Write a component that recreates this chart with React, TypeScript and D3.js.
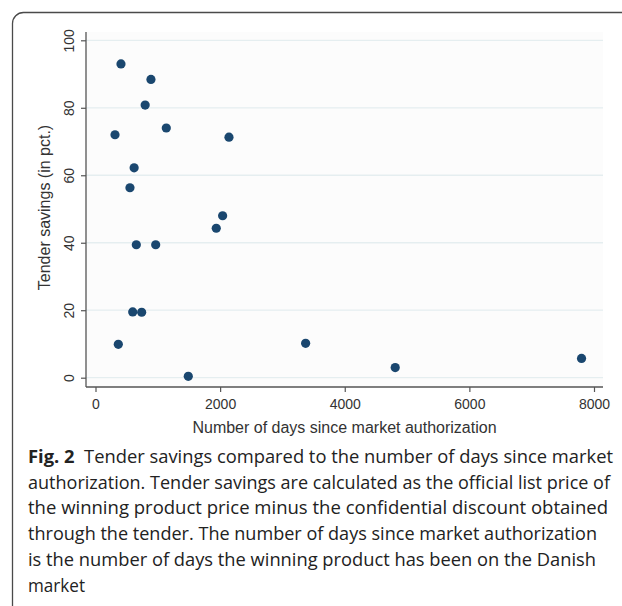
import { useEffect, useRef } from 'react'
import * as d3 from 'd3'

// days since market authorization vs tender savings (%)
const days = [409, 890, 797, 313, 1136, 2142, 620, 553, 1938, 2040, 655, 966, 597, 741, 366, 1489, 3372, 4810, 7800]
const savings = [93.0, 88.4, 80.8, 72.0, 74.0, 71.3, 62.2, 56.3, 44.3, 48.0, 39.4, 39.4, 19.5, 19.4, 9.9, 0.4, 10.2, 3.0, 5.7]

const xTicks = [0, 2000, 4000, 6000, 8000]
const yTicks = [0, 20, 40, 60, 80, 100]

const xTitle = 'Number of days since market authorization'
const yTitle = 'Tender savings (in pct.)'

const captionBold = 'Fig. 2'
const captionLines = [
  'Tender savings compared to the number of days since market',
  'authorization. Tender savings are calculated as the official list price of',
  'the winning product price minus the confidential discount obtained',
  'through the tender. The number of days since market authorization',
  'is the number of days the winning product has been on the Danish',
  'market',
]
const captionWidths = [585, 582, 580, 569, 568, 57]

export default function App() {
  const svgRef = useRef<SVGSVGElement>(null)

  useEffect(() => {
    if (!svgRef.current) return
    const width = 622
    const height = 606
    const frame = { left: 86, right: 603, top: 32, bottom: 387 }

    const x = d3.scaleLinear().domain([0, 8000]).range([95.5, 594])
    const y = d3.scaleLinear().domain([0, 100]).range([377.7, 40.3])

    const svg = d3.select(svgRef.current)
    svg.selectAll('*').remove()
    svg.attr('width', width).attr('height', height)

    // outer box of the figure
    svg.append('path')
      .attr('d', `M12.5,${height} L12.5,23.5 A11,11 0 0 1 23.5,12.5 L${width},12.5`)
      .attr('fill', 'none')
      .attr('stroke', '#4a4a4a')
      .attr('stroke-width', 1.3)

    svg.append('rect')
      .attr('x', frame.left)
      .attr('y', frame.top)
      .attr('width', frame.right - frame.left)
      .attr('height', frame.bottom - frame.top)
      .attr('fill', '#fcfcfc')

    // gridlines
    svg.append('g')
      .selectAll('line')
      .data(yTicks)
      .join('line')
      .attr('x1', frame.left)
      .attr('x2', frame.right)
      .attr('y1', d => y(d))
      .attr('y2', d => y(d))
      .attr('stroke', '#e5eef0')
      .attr('stroke-width', 1.3)

    const font = 'Arial, "Liberation Sans", sans-serif'

    const gy = svg.append('g')
      .attr('transform', `translate(${frame.left},0)`)
      .call(d3.axisLeft(y).tickValues(yTicks).tickSize(5).tickFormat(d => String(d)))
    gy.select('.domain').remove()
    gy.selectAll('line').attr('stroke', '#555').attr('stroke-width', 1.2)
    gy.selectAll('text')
      .attr('transform', 'rotate(-90)')
      .attr('x', 0)
      .attr('y', -12)
      .attr('dy', 0)
      .attr('text-anchor', 'middle')
      .attr('font-family', font)
      .attr('font-size', 14)
      .attr('fill', '#333')

    const gx = svg.append('g')
      .attr('transform', `translate(0,${frame.bottom})`)
      .call(d3.axisBottom(x).tickValues(xTicks).tickSize(5).tickFormat(d => String(d)))
    gx.select('.domain').remove()
    gx.selectAll('line').attr('stroke', '#555').attr('stroke-width', 1.2)
    gx.selectAll('text')
      .attr('y', 12)
      .attr('font-family', font)
      .attr('font-size', 14)
      .attr('fill', '#333')

    // axis lines (offset from the data range, Stata style)
    svg.append('line')
      .attr('x1', frame.left).attr('x2', frame.left)
      .attr('y1', frame.top).attr('y2', frame.bottom)
      .attr('stroke', '#555').attr('stroke-width', 1.3)
    svg.append('line')
      .attr('x1', frame.left).attr('x2', frame.right)
      .attr('y1', frame.bottom).attr('y2', frame.bottom)
      .attr('stroke', '#555').attr('stroke-width', 1.3)

    svg.append('text')
      .attr('x', (frame.left + frame.right) / 2)
      .attr('y', 432.5)
      .attr('text-anchor', 'middle')
      .attr('font-family', font)
      .attr('font-size', 16)
      .attr('fill', '#333')
      .text(xTitle)

    svg.append('text')
      .attr('transform', `translate(50,207.5) rotate(-90)`)
      .attr('text-anchor', 'middle')
      .attr('font-family', font)
      .attr('font-size', 16)
      .attr('fill', '#333')
      .text(yTitle)

    svg.append('g')
      .selectAll('circle')
      .data(days.map((d, i) => ({ d, s: savings[i] })))
      .join('circle')
      .attr('cx', p => x(p.d))
      .attr('cy', p => y(p.s))
      .attr('r', 4.6)
      .attr('fill', '#1a476f')

    // caption
    const cap = svg.append('g')
      .attr('font-family', '"Open Sans", "Noto Sans", sans-serif')
      .attr('font-size', 18)
      .attr('fill', '#222')
    captionLines.forEach((line, i) => {
      const t = cap.append('text')
        .attr('x', 28)
        .attr('y', 462.7 + i * 25.8)
        .attr('textLength', captionWidths[i])
        .attr('lengthAdjust', 'spacingAndGlyphs')
      if (i === 0) {
        t.append('tspan').attr('font-weight', 700).text(captionBold + '\u00a0\u00a0')
      }
      t.append('tspan').text(line)
    })
  }, [])

  return (
    <svg ref={svgRef} style={{ position: 'absolute', top: 0, left: 0, display: 'block', background: '#fff' }} />
  )
}
